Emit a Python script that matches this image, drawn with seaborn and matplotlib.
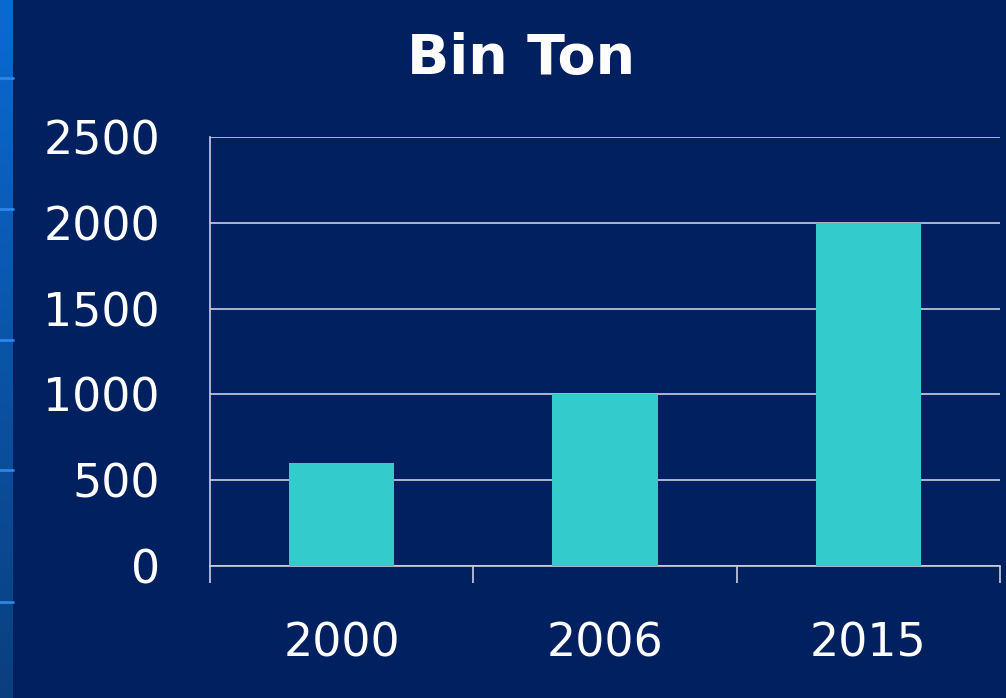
import numpy as np
import pandas as pd
import matplotlib
matplotlib.use("Agg")
import matplotlib.pyplot as plt
import seaborn as sns
from matplotlib.lines import Line2D

years = ["2000", "2006", "2015"]
values = [600, 1000, 2000]
yticks = [0, 500, 1000, 1500, 2000, 2500]

bg = "#002060"
bar_color = "#33CCCC"
grid_color = "#C8D0E0"

sns.set_style("white")
plt.rcParams["font.family"] = ["DejaVu Sans"]

df = pd.DataFrame({"year": years, "value": values})

fig = plt.figure(figsize=(10.06, 6.98), dpi=100)
fig.patch.set_facecolor(bg)

# left gradient strip
strip = fig.add_axes([0, 0, 13 / 1006, 1])
grad = np.linspace(0, 1, 256).reshape(-1, 1)
cmap = matplotlib.colors.LinearSegmentedColormap.from_list("s", ["#0A6AD2", "#0A3F7E"])
strip.imshow(grad, aspect="auto", cmap=cmap, extent=[0, 1, 0, 1], origin="upper")
strip.set_axis_off()
for yp in [78, 209, 340, 470, 602]:
    fig.add_artist(Line2D([0, 13 / 1006], [1 - yp / 698] * 2, color="#2A86E8", lw=2))

ax = fig.add_axes([210 / 1006, 132 / 698, 790 / 1006, 429 / 698])
ax.set_facecolor(bg)
sns.barplot(data=df, x="year", y="value", color=bar_color, width=0.4,
            saturation=1, edgecolor="none", linewidth=0, ax=ax, zorder=3)
ax.set_ylim(0, 2500)
ax.set_xlim(-0.5, 2.5)
ax.set_yticks(yticks)
ax.set_yticklabels([str(v) for v in yticks])
ax.set_xlabel("")
ax.set_ylabel("")

ax.yaxis.grid(True, color=grid_color, lw=1.2, zorder=0)
ax.set_axisbelow(True)

for side in ["top", "right"]:
    ax.spines[side].set_visible(False)
for side in ["left", "bottom"]:
    ax.spines[side].set_color(grid_color)
    ax.spines[side].set_linewidth(1.2)

ax.tick_params(axis="y", length=0, pad=36, labelsize=33, labelcolor="white")
ax.tick_params(axis="x", which="major", length=0, pad=40, labelsize=33, labelcolor="white")
ax.set_xticks([-0.5, 0.5, 1.5, 2.5], minor=True)
ax.tick_params(axis="x", which="minor", bottom=True, length=12, width=1.2,
               color=grid_color, direction="out")

fig.text(0.518, 1 - 59 / 698, "Bin Ton", ha="center", va="center",
         fontsize=40, fontweight="bold", color="white")

fig.savefig("out.png", dpi=100, facecolor=bg)
